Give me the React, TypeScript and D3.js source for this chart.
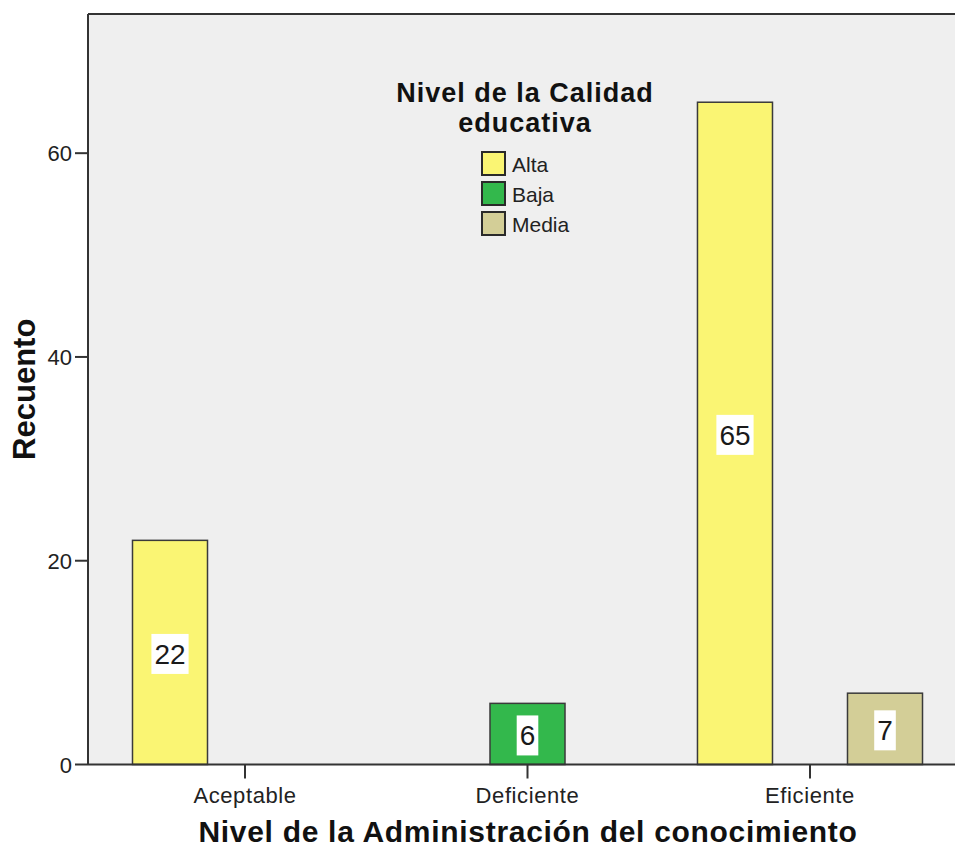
import React from 'react';
import * as d3 from 'd3';

const categories = ['Aceptable', 'Deficiente', 'Eficiente'];
const seriesNames = ['Alta', 'Baja', 'Media'];
const altaValues: (number | null)[] = [22, null, 65];
const bajaValues: (number | null)[] = [null, 6, null];
const mediaValues: (number | null)[] = [null, null, 7];
const yTicks = [0, 20, 40, 60];
const seriesColors = ['#FAF573', '#33B84C', '#D3CE97'];

const xTitle = 'Nivel de la Administración del conocimiento';
const yTitle = 'Recuento';
const legendTitle = ['Nivel de la Calidad', 'educativa'];

const W = 955;
const H = 848;
const FONT = '"Liberation Sans", Arial, Helvetica, sans-serif';

export default function App() {
  const left = 88, top = 14, bottom = 764.5, right = 967;
  const x = d3.scaleBand<string>().domain(categories).range([left, right]).paddingInner(0).paddingOuter(0.0558);
  const xs = d3.scaleBand<string>().domain(seriesNames).range([0, x.bandwidth()]).paddingInner(0).paddingOuter(0.383);
  const y = d3.scaleLinear().domain([0, 73.66]).range([bottom, top]);
  const allSeries = [altaValues, bajaValues, mediaValues];

  const bars: { cat: string; s: string; v: number; color: string }[] = [];
  seriesNames.forEach((s, si) => {
    categories.forEach((c, ci) => {
      const v = allSeries[si][ci];
      if (v != null) bars.push({ cat: c, s, v, color: seriesColors[si] });
    });
  });

  return (
    <svg width={W} height={H} style={{ position: 'absolute', left: 0, top: 0, background: '#fff' }} fontFamily={FONT}>
      <rect x={left} y={top} width={right - left} height={bottom - top} fill="#EFEFEF" />
      {bars.map((b, i) => {
        const bx = (x(b.cat) as number) + (xs(b.s) as number);
        const bw = xs.bandwidth();
        const by = y(b.v);
        const label = String(b.v);
        const tw = label.length * 15.6 + 6;
        const cy = (by + bottom) / 2 + 1.5;
        return (
          <g key={i}>
            <rect x={bx} y={by} width={bw} height={bottom - by} fill={b.color} stroke="#3a3a3a" strokeWidth={1.5} />
            <rect x={bx + bw / 2 - tw / 2} y={cy - 20} width={tw} height={40} fill="#fff" />
            <text x={bx + bw / 2} y={cy + 10} textAnchor="middle" fontSize={28} fill="#1a1a1a">{label}</text>
          </g>
        );
      })}
      {/* frame */}
      <line x1={left} y1={top} x2={right} y2={top} stroke="#333" strokeWidth={2} />
      <line x1={left} y1={top} x2={left} y2={bottom} stroke="#333" strokeWidth={2} />
      <line x1={left} y1={bottom} x2={right} y2={bottom} stroke="#333" strokeWidth={2} />
      {yTicks.map((t) => (
        <g key={t}>
          <line x1={left - 13} x2={left} y1={y(t)} y2={y(t)} stroke="#333" strokeWidth={2} />
          <text x={left - 16} y={y(t) + 8} textAnchor="end" fontSize={22} fill="#222">{t}</text>
        </g>
      ))}
      {categories.map((c) => {
        const cx = (x(c) as number) + x.bandwidth() / 2;
        return (
          <g key={c}>
            <line x1={cx} x2={cx} y1={bottom} y2={bottom + 14} stroke="#333" strokeWidth={2} />
            <text x={cx} y={803} textAnchor="middle" fontSize={22} letterSpacing={0.6} fill="#222">{c}</text>
          </g>
        );
      })}
      <text x={528} y={842} textAnchor="middle" fontSize={30} letterSpacing={0.7} fontWeight="bold" fill="#111">{xTitle}</text>
      <text transform={`translate(35,${(top + bottom) / 2}) rotate(-90)`} textAnchor="middle" fontSize={31} fontWeight="bold" fill="#111">{yTitle}</text>
      {/* legend */}
      {legendTitle.map((t, i) => (
        <text key={t} x={525} y={102 + i * 30} textAnchor="middle" fontSize={27} letterSpacing={1} fontWeight="bold" fill="#111">{t}</text>
      ))}
      {seriesNames.map((s, i) => (
        <g key={s}>
          <rect x={482} y={152 + i * 30} width={23} height={23} fill={seriesColors[i]} stroke="#2a2a2a" strokeWidth={2} />
          <text x={512} y={172 + i * 30} fontSize={21} fill="#222">{s}</text>
        </g>
      ))}
    </svg>
  );
}
